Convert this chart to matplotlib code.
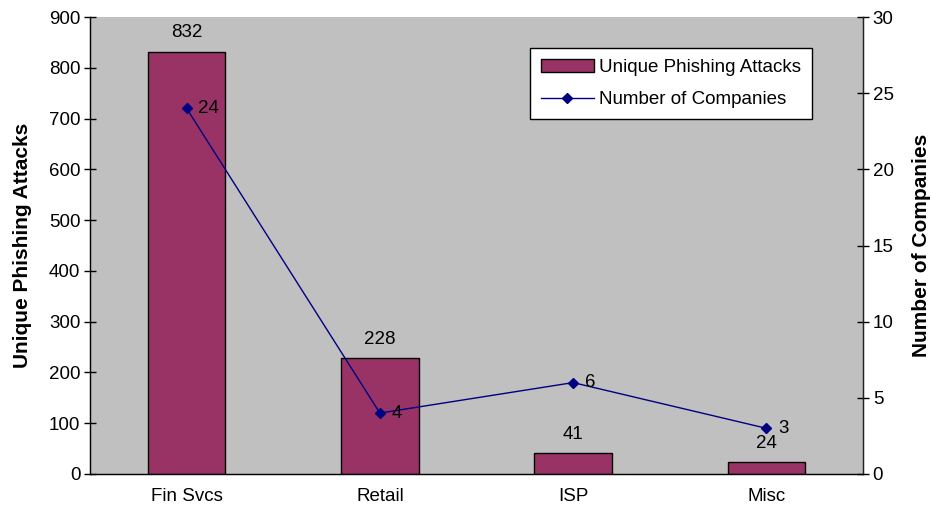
import matplotlib
matplotlib.use("Agg")
import matplotlib.pyplot as plt
import numpy as np

categories = ["Fin Svcs", "Retail", "ISP", "Misc"]
attacks = [832, 228, 41, 24]
companies = [24, 4, 6, 3]

plt.rcParams["font.family"] = ["Liberation Sans", "DejaVu Sans"]

fig = plt.figure(figsize=(9.3, 5.12), dpi=100)
fig.patch.set_facecolor("white")
ax = fig.add_axes([90 / 930, 1 - 474 / 512, 773 / 930, 457 / 512])
ax.set_facecolor("#C0C0C0")

x = np.arange(len(categories))
bars = ax.bar(x, attacks, width=0.4, color="#993366", edgecolor="black",
              linewidth=1.0, label="Unique Phishing Attacks", zorder=2)
for xi, v in zip(x, attacks):
    ax.text(xi, v + 20, str(v), ha="center", va="bottom", fontsize=13.5)

ax.set_xlim(-0.5, len(categories) - 0.5)
ax.set_ylim(0, 900)
ax.set_yticks(np.arange(0, 901, 100))
ax.set_xticks(x)
ax.set_xticklabels(categories)
ax.tick_params(axis="y", direction="inout", length=8, width=1, labelsize=13.5, pad=3)
ax.tick_params(axis="x", length=0, labelsize=13.5, pad=10)
ax.set_ylabel("Unique Phishing Attacks", fontsize=15, fontweight="bold", labelpad=12)
ax.spines["top"].set_visible(False)
for s in ("left", "bottom"):
    ax.spines[s].set_linewidth(1.0)
    ax.spines[s].set_color("#222222")

ax2 = ax.twinx()
line, = ax2.plot(x, companies, color="#000080", linewidth=1.0, marker="D",
                 markersize=5.5, markerfacecolor="#000080", markeredgecolor="#000080",
                 label="Number of Companies", zorder=3)
for xi, v in zip(x, companies):
    ax2.text(xi + 0.06, v, str(v), ha="left", va="center", fontsize=13.5)
ax2.set_ylim(0, 30)
ax2.set_yticks(np.arange(0, 31, 5))
ax2.tick_params(axis="y", direction="inout", length=8, width=1, labelsize=13.5, pad=3)
ax2.set_ylabel("Number of Companies", fontsize=15, fontweight="bold", labelpad=13)
ax2.spines["top"].set_visible(False)
ax2.spines["right"].set_linewidth(1.0)
ax2.spines["right"].set_color("#222222")

leg = ax2.legend([bars, line], ["Unique Phishing Attacks", "Number of Companies"],
                 loc="upper left", bbox_to_anchor=(0.569, 0.933), fontsize=13.5,
                 frameon=True, fancybox=False, edgecolor="black", facecolor="white",
                 framealpha=1, handlelength=2.8, borderpad=0.6, labelspacing=0.8,
                 handletextpad=0.3, borderaxespad=0)
leg.get_frame().set_linewidth(1.0)

fig.savefig("out.png", dpi=100)
